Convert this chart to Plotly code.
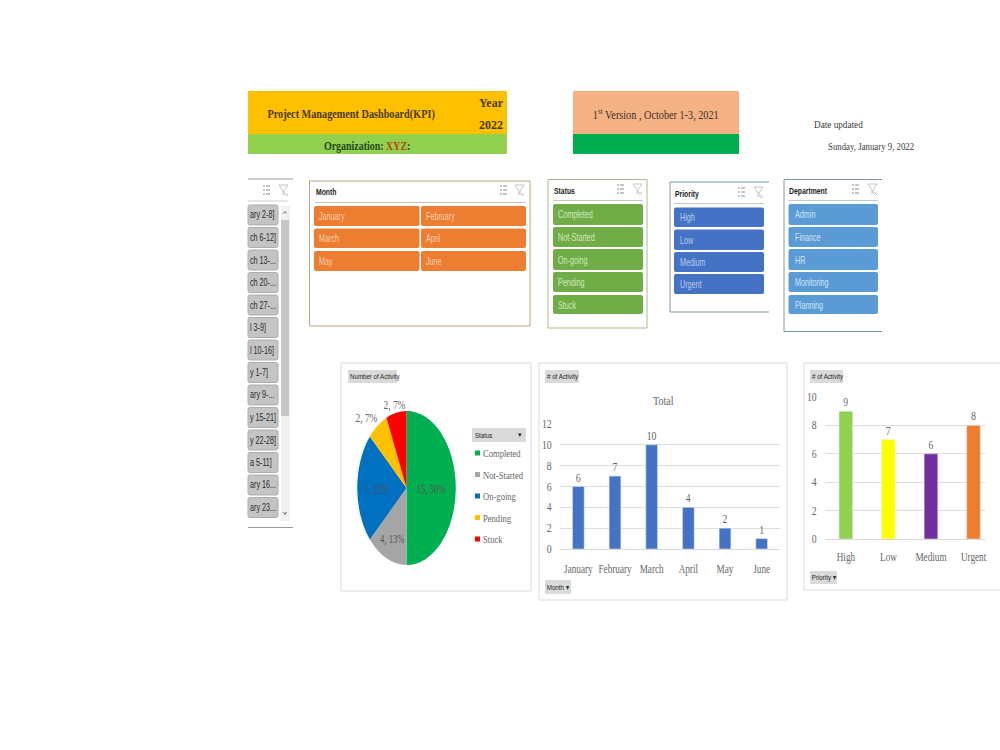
import json
import plotly.graph_objects as go

# ---- data ----
months = ["January", "February", "March", "April", "May", "June"]
month_counts = [6, 7, 10, 4, 2, 1]
statuses = ["Completed", "Not-Started", "On-going", "Pending", "Stuck"]
status_counts = [15, 4, 7, 2, 2]
priorities = ["High", "Low", "Medium", "Urgent"]
priority_counts = [9, 7, 6, 8]
departments = ["Admin", "Finance", "HR", "Monitoring", "Planning"]
week_labels = ["ary 2-8]", "ch 6-12]", "ch 13-...", "ch 20-...", "ch 27-...", "l 3-9]", "l 10-16]",
               "y 1-7]", "ary 9-...", "y 15-21]", "y 22-28]", "a 5-11]", "ary 16...", "ary 23..."]

# ---- palette and fonts ----
status_colors = ["#00B050", "#A5A5A5", "#0070C0", "#FFC000", "#FF0000"]
priority_colors = ["#92D050", "#FFFF00", "#7030A0", "#ED7D31"]
SERIF = "Liberation Serif"
SANS = "Liberation Sans"
GREY_TEXT = "#666666"

W, H = 1000, 750
shapes, notes, note_squeeze = [], [], []


def px(x):
    return x / W


def py(y):
    return 1 - y / H


def box(x0, y0, x1, y1, fill="rgba(0,0,0,0)", line=None, width=1):
    shapes.append(dict(type="rect", xref="paper", yref="paper", layer="below",
                       x0=px(x0), x1=px(x1), y0=py(y0), y1=py(y1), fillcolor=fill,
                       line=dict(color=line or "rgba(0,0,0,0)", width=width if line else 0)))


def round_box(x0, y0, x1, y1, fill, line=None, r=2):
    # rectangle with softly rounded corners, in paper fractions
    rx, ry = r / W, r / H
    a, b, c, d = px(x0), px(x1), py(y1), py(y0)
    path = (f"M{a + rx},{c} L{b - rx},{c} Q{b},{c} {b},{c + ry} L{b},{d - ry} Q{b},{d} {b - rx},{d} "
            f"L{a + rx},{d} Q{a},{d} {a},{d - ry} L{a},{c + ry} Q{a},{c} {a + rx},{c} Z")
    shapes.append(dict(type="path", xref="paper", yref="paper", layer="below", path=path, fillcolor=fill,
                       line=dict(color=line or "rgba(0,0,0,0)", width=1 if line else 0)))


def seg(x0, y0, x1, y1, color, width=1):
    shapes.append(dict(type="line", xref="paper", yref="paper", layer="below",
                       x0=px(x0), x1=px(x1), y0=py(y0), y1=py(y1),
                       line=dict(color=color, width=width)))


def note(x, y, text, size=10, color="#333333", font=SERIF, anchor="left", squeeze=1.0):
    notes.append(dict(xref="paper", yref="paper", x=px(x), y=py(y), text=text, showarrow=False,
                      xanchor=anchor, yanchor="middle", borderpad=0,
                      font=dict(family=font, size=size, color=color)))
    note_squeeze.append([squeeze, anchor])


def icons(x_multi, x_funnel, y):
    # multi-select and clear-filter glyphs of a slicer header
    for dy in (0, 4, 8):
        seg(x_multi, y + dy, x_multi + 2, y + dy, "#8C8C8C")
        seg(x_multi + 3, y + dy, x_multi + 7, y + dy, "#8C8C8C")
    for a, b, c, d in [(0, 0, 9, 0), (0, 0, 4, 6), (9, 0, 5, 6), (4, 6, 4, 10), (5, 6, 5, 10),
                       (6, 8, 9, 11), (9, 8, 6, 11)]:
        seg(x_funnel + a, y - 1 + b, x_funnel + c, y - 1 + d, "#C4C4C4")


def slicer_buttons(labels, rows, x0, x1, fill, ink, left=4):
    for label, (y0, y1) in zip(labels, rows):
        round_box(x0, y0, x1, y1, fill)
        note(x0 + left, (y0 + y1) / 2 + 0.5, label, 10, ink, SANS, squeeze=0.72)


# ---- header banners ----
box(248, 91, 507, 134, "#FFC000")
box(248, 134, 507, 154, "#92D050")
note(351, 114, "<b>Project Management Dashboard(KPI)</b>", 11.5, "#4A3A10", anchor="center", squeeze=0.89)
note(491, 103, "<b>Year</b>", 12, "#4A3A10", anchor="center")
note(491, 125, "<b>2022</b>", 12, "#4A3A10", anchor="center")
note(367, 146, "<b>Organization: <span style='color:#B5460F'>XYZ</span>:</b>", 12, "#264A1C",
     anchor="center", squeeze=0.83)
box(573, 91, 739, 134, "#F4B183")
box(573, 134, 739, 154, "#00B050")
note(656, 115, "1<sup>st</sup> Version , October 1-3, 2021", 11.5, "#3F3226", anchor="center", squeeze=0.89)
note(813, 124, "Date updated", 10, "#3A3A3A", squeeze=0.92)
note(827, 147, "Sunday, January 9, 2022", 10, "#3A3A3A", squeeze=0.88)

# ---- week slicer, cut off on its left side ----
seg(248, 179, 293, 179, "#9A9A9A")
seg(248, 527.5, 293, 527.5, "#9A9A9A")
seg(248, 201, 288, 201, "#CFCFCF")
icons(263, 279, 186)
for i, label in enumerate(week_labels):
    top = 205 + i * 22.5
    round_box(248, top, 278, top + 20, "#C4C4C4", "#ADADAD")
    note(248.5, top + 10, label, 10, "#2B2B2B", SANS, squeeze=0.72)
box(281, 206, 290, 521, "#F1F1F1")
box(281, 220, 289, 416, "#C6C6C6")
seg(283.5, 213.5, 285, 211.5, "#666666")
seg(285, 211.5, 286.5, 213.5, "#666666")
seg(283.5, 512, 285, 514.5, "#666666")
seg(285, 514.5, 286.5, 512, "#666666")

# ---- month slicer ----
box(309.5, 181, 530, 326, "#FFFFFF", "#B8A47E", 1)
note(315, 191.5, "<b>Month</b>", 9.5, "#1A1A1A", SANS, squeeze=0.72)
seg(315, 202.5, 526, 202.5, "#C9C2B4")
icons(500, 515, 186)
month_rows = [(206, 226), (206, 226), (228.5, 248), (228.5, 248), (251, 271), (251, 271)]
for i, label in enumerate(months):
    x0, x1 = (314, 419.5) if i % 2 == 0 else (421, 526)
    slicer_buttons([label], [month_rows[i]], x0, x1, "#ED7D31", "#F9CFB0")

# ---- status slicer ----
tall_rows = [(204, 225), (227, 247), (249, 270), (272, 292), (295, 314)]
box(548, 179.5, 647, 328, "#FFFFFF", "#A6BC8C", 1)
note(553, 190, "<b>Status</b>", 9.5, "#1A1A1A", SANS, squeeze=0.72)
seg(553, 200.5, 643, 200.5, "#C4CDB8")
icons(617, 633, 185)
slicer_buttons(statuses, tall_rows, 553, 643, "#70AD47", "#CFE8BE")

# ---- priority slicer, open on the right ----
seg(670, 182, 769, 182, "#7E95A6")
seg(670, 182, 670, 312, "#7E95A6")
seg(670, 312, 769, 312, "#7E95A6")
note(674, 193, "<b>Priority</b>", 9.5, "#1A1A1A", SANS, squeeze=0.72)
seg(674, 203.5, 764, 203.5, "#BFC8D0")
icons(738, 754, 188)
slicer_buttons(priorities, [(207.5, 227), (229.5, 250), (252, 272), (274, 294)], 674, 764, "#4472C4", "#B9CBEB", 5)

# ---- department slicer, open on the right ----
seg(784, 179.5, 882, 179.5, "#6F9AAA")
seg(784, 179.5, 784, 331.5, "#6F9AAA")
seg(784, 331.5, 882, 331.5, "#6F9AAA")
note(788, 190, "<b>Department</b>", 9.5, "#1A1A1A", SANS, squeeze=0.72)
seg(788, 200.5, 878, 200.5, "#BFCCD3")
icons(852, 868, 185)
slicer_buttons(departments, tall_rows, 788.5, 878, "#5B9BD5", "#CFE2F3", 5)

# ---- chart cards and field buttons ----
box(341, 363, 531, 591, "#FFFFFF", "#E8E8E8", 1.5)
box(539, 363, 787, 600, "#FFFFFF", "#E8E8E8", 1.5)
box(804, 363, 1003, 590, "#FFFFFF", "#E8E8E8", 1.5)
for x0, y0, x1, y1, text in [
    (348, 370, 397, 383, "Number of Activity"),
    (545, 370, 579, 383, "# of Activity"),
    (810, 370, 843, 383, "# of Activity"),
    (545, 580, 571, 594, "Month ▾"),
    (810, 571, 837, 584, "Priority ▾"),
]:
    box(x0, y0, x1, y1, "#DADADA")
    note(x0 + 1, (y0 + y1) / 2, text, 8, "#262626", SANS, squeeze=0.77)

# ---- status legend beside the pie ----
box(472, 428, 526, 442, "#DADADA")
note(474, 435.5, "Status", 8, "#262626", SANS, squeeze=0.77)
note(523, 435, "▾", 7, "#262626", SANS, "right")
for i, (label, color) in enumerate(zip(statuses, status_colors)):
    row = 453 + i * 21.5
    box(475, row - 2.5, 480, row + 2.5, color)
    note(482, row, label, 11, GREY_TEXT, squeeze=0.78)

note(663, 401, "Total", 13, GREY_TEXT, anchor="center", squeeze=0.78)

# the two thin slices carry their labels outside the pie
total = sum(status_counts)
note(394, 405, f"{status_counts[4]}, {status_counts[4] / total:.0%}", 11.5, GREY_TEXT, anchor="center", squeeze=0.82)
note(366.5, 418, f"{status_counts[3]}, {status_counts[3] / total:.0%}", 11.5, GREY_TEXT, anchor="center", squeeze=0.82)

fig = go.Figure()

# Status pie: built round, then squeezed sideways by the page script below
PIE_CX, PIE_CY, PIE_D = 406.5, 488, 154
PIE_SQUEEZE = 0.64
fig.add_trace(go.Pie(
    labels=statuses, values=status_counts, sort=False, direction="clockwise", rotation=0,
    marker=dict(colors=status_colors, line=dict(width=0)),
    domain=dict(x=[px(PIE_CX - PIE_D / 2), px(PIE_CX + PIE_D / 2)],
                y=[py(PIE_CY + PIE_D / 2), py(PIE_CY - PIE_D / 2)]),
    texttemplate="%{value}, %{percent:.0%}",
    textposition=["inside", "inside", "inside", "none", "none"],
    insidetextorientation="horizontal",
    textfont=dict(family=SERIF, size=13.5, color="#555555"),
    showlegend=False, hoverinfo="label+value+percent",
))

bar_text = dict(family=SERIF, size=11.5, color=GREY_TEXT)
fig.add_trace(go.Bar(x=months, y=month_counts, marker_color="#4472C4", text=month_counts,
                     textposition="outside", cliponaxis=False, textfont=bar_text,
                     xaxis="x", yaxis="y", showlegend=False))
fig.add_trace(go.Bar(x=priorities, y=priority_counts, marker_color=priority_colors, text=priority_counts,
                     textposition="outside", cliponaxis=False, textfont=bar_text,
                     xaxis="x2", yaxis="y2", showlegend=False))

tick_font = dict(family=SERIF, size=11.5, color=GREY_TEXT)
x_common = dict(showgrid=False, showline=True, linecolor="#D9D9D9", zeroline=False, fixedrange=True,
                ticks="outside", tickcolor="rgba(0,0,0,0)", tickfont=tick_font, type="category", tickangle=0)
y_common = dict(showgrid=True, gridcolor="#DDDDDD", gridwidth=1, showline=False, zeroline=False,
                ticks="outside", ticklen=5, tickcolor="rgba(0,0,0,0)", tickfont=tick_font, fixedrange=True)

fig.update_layout(
    width=W, height=H, margin=dict(l=0, r=0, t=0, b=0, autoexpand=False),
    paper_bgcolor="#FFFFFF", plot_bgcolor="rgba(0,0,0,0)",
    bargap=0.68, shapes=shapes, annotations=notes,
    xaxis=dict(domain=[px(560), px(780)], anchor="y", ticklen=9, range=[-0.5, 5.5], **x_common),
    yaxis=dict(domain=[py(549), py(424)], anchor="x", range=[0, 12], dtick=2, **y_common),
    xaxis2=dict(domain=[px(825), px(985)], anchor="y2", ticklen=7, range=[-0.49, 3.27], **x_common),
    yaxis2=dict(domain=[py(539), py(397)], anchor="x2", range=[0, 10], dtick=2, **y_common),
)

# Page script: condense the text horizontally (no condensed face is installed) and flatten the pie
page_script = f"""
var noteSqueeze = {json.dumps(note_squeeze)};
function condense(el, s, mode) {{
  if (s === 1) return;
  var b = el.getBBox();
  var a = mode === 'left' ? b.x : mode === 'right' ? b.x + b.width : b.x + b.width / 2;
  var prior = el.getAttribute('transform') || '';
  el.setAttribute('transform', prior + ' translate(' + a + ',0) scale(' + s + ',1) translate(' + (-a) + ',0)');
}}
document.querySelectorAll('.annotation').forEach(function (g) {{
  var spec = noteSqueeze[+g.getAttribute('data-index')];
  var t = g.querySelector('text');
  if (spec && t) condense(t, spec[0], spec[1]);
}});
document.querySelectorAll('.xtick text, .x2tick text').forEach(function (t) {{ condense(t, 0.8, 'center'); }});
document.querySelectorAll('.ytick text, .y2tick text').forEach(function (t) {{ condense(t, 0.85, 'right'); }});
document.querySelectorAll('.bartext').forEach(function (t) {{ condense(t, 0.85, 'center'); }});
var layer = document.querySelector('.pielayer');
if (layer) {{
  layer.setAttribute('transform',
    'translate({PIE_CX},0) scale({PIE_SQUEEZE},1) translate({-PIE_CX},0)');
}}
"""
fig.write_html("out.html", post_script=page_script, config=dict(displayModeBar=False))
